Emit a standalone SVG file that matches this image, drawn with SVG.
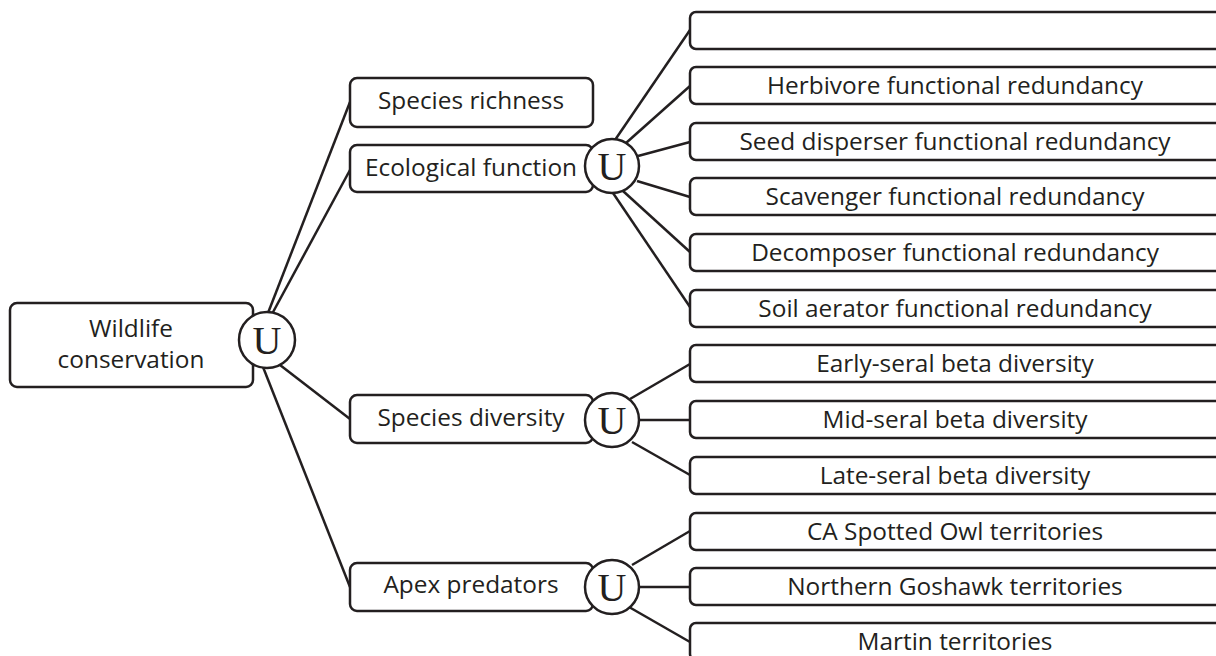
<svg xmlns="http://www.w3.org/2000/svg" width="1216" height="656" viewBox="0 0 1216 656">
<style>
.box{fill:#fff;stroke:#231f20;stroke-width:2.5}
.lbl{font-family:"Open Sans","Liberation Sans",sans-serif;font-size:24.4px;fill:#231f20;text-anchor:middle}
.u{fill:#fff;stroke:#231f20;stroke-width:2.5}
.ut{font-family:"Liberation Serif","DejaVu Serif",serif;font-size:40px;fill:#231f20;text-anchor:middle}
.con line{stroke:#231f20;stroke-width:2.5;fill:none}
</style>
<rect width="1216" height="656" fill="#fff"/>
<g class="con" id="connectors">
<line x1="268" y1="313" x2="350" y2="102"/>
<line x1="272" y1="314" x2="350" y2="170"/>
<line x1="280" y1="365" x2="350" y2="419"/>
<line x1="263" y1="367" x2="350" y2="587"/>
<line x1="615" y1="140" x2="690" y2="30"/>
<line x1="626" y1="143" x2="690" y2="86"/>
<line x1="638" y1="156" x2="690" y2="142"/>
<line x1="637" y1="181" x2="690" y2="197"/>
<line x1="623" y1="191" x2="690" y2="252"/>
<line x1="613" y1="193" x2="690" y2="307"/>
<line x1="630" y1="399" x2="690" y2="364"/>
<line x1="639" y1="420" x2="690" y2="420"/>
<line x1="632" y1="442" x2="690" y2="475"/>
<line x1="632" y1="565" x2="690" y2="531"/>
<line x1="639" y1="587" x2="690" y2="587"/>
<line x1="629" y1="607" x2="690" y2="642"/>
</g>
<g id="wildlife">
<rect class="box" x="10" y="303" width="243" height="84" rx="7"/>
<text class="lbl" x="131" y="337">Wildlife</text>
<text class="lbl" x="131" y="368">conservation</text>
</g>
<g id="u-wildlife"><circle class="u" cx="267" cy="340" r="28"/><text class="ut" x="267" y="354">U</text></g>
<g id="species-richness">
<rect class="box" x="350" y="78" width="243" height="49" rx="7"/>
<text class="lbl" x="471" y="109">Species richness</text>
</g>
<g id="ecological-function">
<rect class="box" x="350" y="145" width="243" height="47" rx="7"/>
<text class="lbl" x="471" y="176">Ecological function</text>
</g>
<g id="u-ecological"><circle class="u" cx="612" cy="166" r="27"/><text class="ut" x="612" y="180">U</text></g>
<g id="species-diversity">
<rect class="box" x="350" y="395" width="243" height="48" rx="7"/>
<text class="lbl" x="471" y="426">Species diversity</text>
</g>
<g id="u-diversity"><circle class="u" cx="612" cy="420" r="27"/><text class="ut" x="612" y="434">U</text></g>
<g id="apex-predators">
<rect class="box" x="350" y="563" width="243" height="48" rx="7"/>
<text class="lbl" x="471" y="593">Apex predators</text>
</g>
<g id="u-apex"><circle class="u" cx="612" cy="587" r="27"/><text class="ut" x="612" y="601">U</text></g>
<g id="r1"><rect class="box" x="690" y="12" width="540" height="37" rx="6"/></g>
<g id="r2"><rect class="box" x="690" y="67" width="540" height="37" rx="6"/><text class="lbl" x="955" y="94">Herbivore functional redundancy</text></g>
<g id="r3"><rect class="box" x="690" y="123" width="540" height="37" rx="6"/><text class="lbl" x="955" y="150">Seed disperser functional redundancy</text></g>
<g id="r4"><rect class="box" x="690" y="178" width="540" height="37" rx="6"/><text class="lbl" x="955" y="205">Scavenger functional redundancy</text></g>
<g id="r5"><rect class="box" x="690" y="234" width="540" height="37" rx="6"/><text class="lbl" x="955" y="261">Decomposer functional redundancy</text></g>
<g id="r6"><rect class="box" x="690" y="290" width="540" height="37" rx="6"/><text class="lbl" x="955" y="317">Soil aerator functional redundancy</text></g>
<g id="r7"><rect class="box" x="690" y="345" width="540" height="37" rx="6"/><text class="lbl" x="955" y="372">Early-seral beta diversity</text></g>
<g id="r8"><rect class="box" x="690" y="401" width="540" height="37" rx="6"/><text class="lbl" x="955" y="428">Mid-seral beta diversity</text></g>
<g id="r9"><rect class="box" x="690" y="457" width="540" height="37" rx="6"/><text class="lbl" x="955" y="484">Late-seral beta diversity</text></g>
<g id="r10"><rect class="box" x="690" y="513" width="540" height="37" rx="6"/><text class="lbl" x="955" y="540">CA Spotted Owl territories</text></g>
<g id="r11"><rect class="box" x="690" y="568" width="540" height="37" rx="6"/><text class="lbl" x="955" y="595">Northern Goshawk territories</text></g>
<g id="r12"><rect class="box" x="690" y="623" width="540" height="37" rx="6"/><text class="lbl" x="955" y="650">Martin territories</text></g>
</svg>
